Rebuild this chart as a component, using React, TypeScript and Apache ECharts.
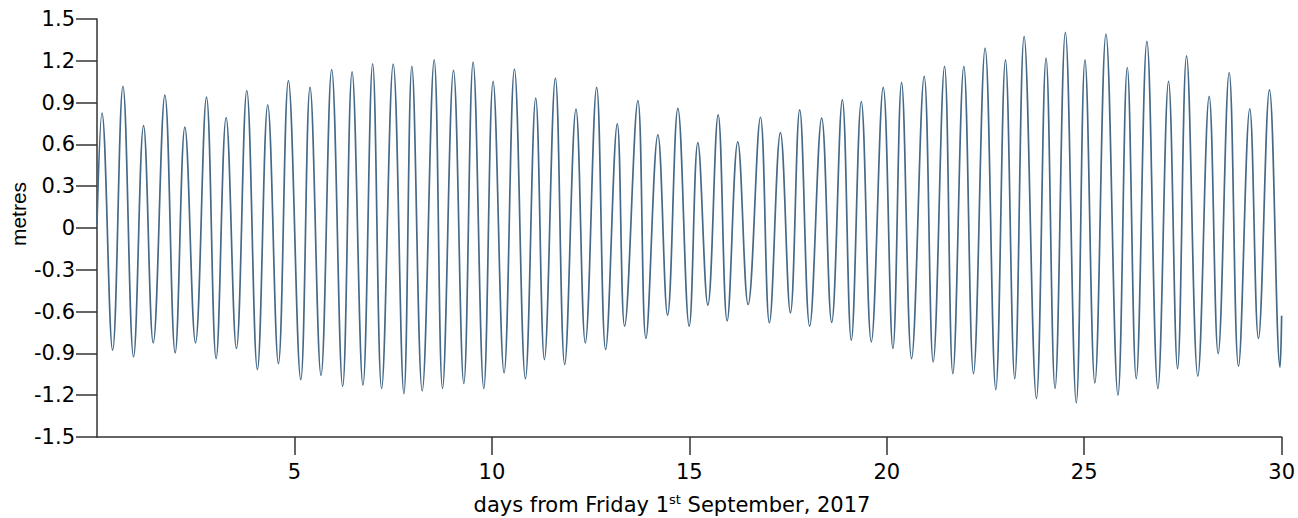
import React, { useEffect, useRef } from "react";
import * as echarts from "echarts";

// Times (days from Friday 1st September 2017) of each turning point of the tide
const tideDays = [
  0.0, 0.126, 0.395, 0.657, 0.926, 1.179, 1.424, 1.719, 1.98, 2.225, 2.494, 2.773, 3.017, 3.27, 3.531,
  3.793, 4.062, 4.324, 4.594, 4.847, 5.16, 5.395, 5.673, 5.943, 6.221, 6.46, 6.735, 6.98, 7.207, 7.502,
  7.772, 7.974, 8.236, 8.539, 8.75, 9.028, 9.289, 9.525, 9.795, 10.031, 10.309, 10.571, 10.849, 11.11,
  11.33, 11.608, 11.844, 12.13, 12.366, 12.653, 12.881, 13.176, 13.361, 13.698, 13.901, 14.204, 14.449,
  14.71, 14.997, 15.216, 15.469, 15.73, 15.958, 16.227, 16.489, 16.801, 17.028, 17.307, 17.56, 17.795,
  18.048, 18.352, 18.605, 18.875, 19.102, 19.355, 19.608, 19.911, 20.156, 20.375, 20.628, 20.948, 21.176,
  21.463, 21.674, 21.952, 22.196, 22.491, 22.761, 23.006, 23.241, 23.478, 23.79, 24.034, 24.261, 24.523,
  24.8, 25.02, 25.27, 25.551, 25.855, 26.091, 26.318, 26.588, 26.866, 27.136, 27.364, 27.592, 27.878,
  28.165, 28.392, 28.671, 28.907, 29.193, 29.412, 29.691, 29.96, 30.0,
];

// Sea level (metres) at each of those times
const tideHeights = [
  0.03, 0.824, -0.877, 1.016, -0.925, 0.735, -0.824, 0.954, -0.896, 0.724, -0.824, 0.939, -0.937, 0.793,
  -0.865, 0.987, -1.016, 0.884, -0.973, 1.057, -1.088, 1.011, -1.057, 1.136, -1.136, 1.121, -1.128, 1.179,
  -1.152, 1.176, -1.188, 1.16, -1.169, 1.207, -1.152, 1.131, -1.116, 1.191, -1.152, 1.052, -1.04, 1.14,
  -1.081, 0.932, -0.944, 1.076, -0.98, 0.853, -0.824, 1.009, -0.872, 0.747, -0.704, 0.915, -0.793, 0.668,
  -0.625, 0.858, -0.704, 0.613, -0.553, 0.812, -0.666, 0.618, -0.549, 0.795, -0.68, 0.685, -0.609, 0.848,
  -0.704, 0.788, -0.678, 0.92, -0.805, 0.908, -0.817, 1.009, -0.865, 1.045, -0.937, 1.088, -0.961, 1.16,
  -1.045, 1.16, -1.045, 1.291, -1.16, 1.207, -1.081, 1.375, -1.224, 1.219, -1.152, 1.404, -1.255, 1.207,
  -1.112, 1.392, -1.2, 1.152, -1.081, 1.339, -1.152, 1.052, -1.009, 1.236, -1.064, 0.944, -0.901, 1.116,
  -0.992, 0.855, -0.793, 0.992, -1.001, -0.63,
];

const xTickValues = [5, 10, 15, 20, 25, 30];
const xMin = 0;
const xMax = 30;
const xStep = 5;
const yMin = -1.5;
const yMax = 1.5;
const yStep = 0.3;

const xTitleMain = "days from Friday 1";
const xTitleSup = "st";
const xTitleRest = " September, 2017";
const yTitle = "metres";

export default function App() {
  const ref = useRef<HTMLDivElement>(null);

  useEffect(() => {
    document.body.style.margin = "0";
    const chart = echarts.init(ref.current as HTMLDivElement, null, { renderer: "svg" });
    const axisColor = "#333333";
    const labelFont = "DejaVu Sans";
    chart.setOption({
      animation: false,
      backgroundColor: "#ffffff",
      grid: { left: 97, right: 11, top: 19, bottom: 81, containLabel: false },
      xAxis: {
        type: "value",
        min: xMin,
        max: xMax,
        interval: xStep,
        axisLine: { show: true, onZero: false, lineStyle: { color: axisColor, width: 1.5 } },
        axisTick: { show: true, length: 18, customValues: xTickValues, lineStyle: { color: axisColor, width: 1.5 } },
        axisLabel: {
          customValues: xTickValues,
          margin: 24,
          fontSize: 21,
          fontFamily: labelFont,
          color: "#000000",
        },
        splitLine: { show: false },
      },
      yAxis: {
        type: "value",
        min: yMin,
        max: yMax,
        interval: yStep,
        axisLine: { show: true, lineStyle: { color: axisColor, width: 1.5 } },
        axisTick: { show: true, length: 21, lineStyle: { color: axisColor, width: 1.5 } },
        axisLabel: {
          margin: 22,
          fontSize: 21,
          fontFamily: labelFont,
          color: "#000000",
        },
        splitLine: { show: false },
      },
      graphic: [
        {
          type: "text",
          x: 672,
          y: 505,
          style: {
            text: `{a|${xTitleMain}}{b|${xTitleSup}}{a|${xTitleRest}}`,
            align: "center",
            verticalAlign: "middle",
            rich: {
              a: { fontSize: 21, fontFamily: labelFont, fill: "#000000", lineHeight: 24 },
              b: { fontSize: 13, fontFamily: labelFont, fill: "#000000", lineHeight: 14, verticalAlign: "top" },
            },
          },
        },
        {
          type: "text",
          x: 18.5,
          y: 214,
          rotation: Math.PI / 2,
          style: {
            text: yTitle,
            align: "center",
            verticalAlign: "middle",
            fontSize: 21,
            fontFamily: "Liberation Sans",
            fill: "#000000",
          },
        },
      ],
      series: [
        {
          type: "line",
          data: tideDays.map((d, i) => [d, tideHeights[i]]),
          smooth: 0.4,
          showSymbol: false,
          lineStyle: { color: "#456987", width: 1.7 },
        },
      ],
    });
    return () => chart.dispose();
  }, []);

  return <div ref={ref} style={{ width: 1298, height: 518 }} />;
}
